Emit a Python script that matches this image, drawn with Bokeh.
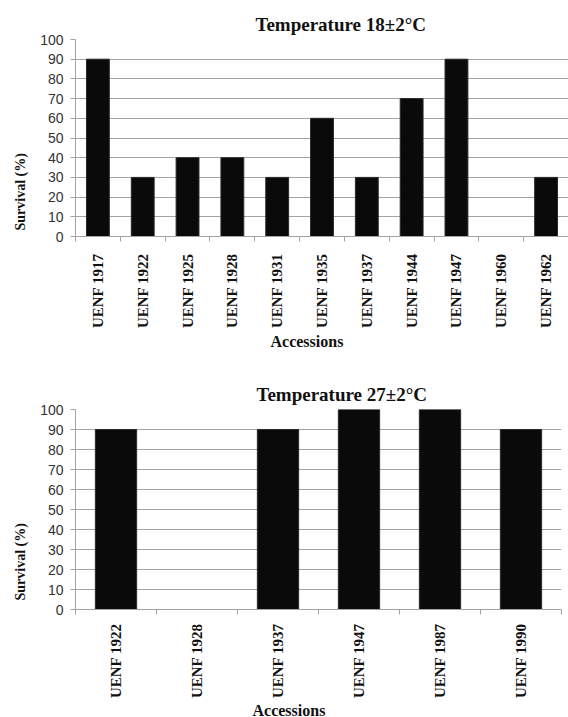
from math import pi

from bokeh.plotting import figure
from bokeh.models import (FactorRange, Range1d, LinearAxis, CategoricalAxis,
                          FixedTicker, Title, ColumnDataSource)
from bokeh.layouts import column
from bokeh.embed import file_html
from bokeh.resources import INLINE

# ---- data ----
acc_18 = ["UENF 1917", "UENF 1922", "UENF 1925", "UENF 1928", "UENF 1931", "UENF 1935",
          "UENF 1937", "UENF 1944", "UENF 1947", "UENF 1960", "UENF 1962"]
surv_18 = [90, 30, 40, 40, 30, 60, 30, 70, 90, 0, 30]

acc_27 = ["UENF 1922", "UENF 1928", "UENF 1937", "UENF 1947", "UENF 1987", "UENF 1990"]
surv_27 = [90, 0, 90, 100, 100, 90]

y_ticks = list(range(0, 101, 10))

title_18 = "Temperature 18±2°C"
title_27 = "Temperature 27±2°C"
y_label = "Survival (%)"
x_label = "Accessions"

GRID = "#a3a3a3"
BAR = "#0a0a0a"
SERIF = "Liberation Serif"
SANS = "Liberation Sans"
TXT = "#111111"


def make_chart(acc, surv, title, left, fw, right, top, fh, bottom,
               title_off, xlab_off, ylab_off, xlab_standoff, cat_standoff):
    p = figure(x_range=FactorRange(factors=acc), y_range=Range1d(0, 100),
               frame_width=fw, frame_height=fh,
               min_border_left=left, min_border_right=right,
               min_border_top=top, min_border_bottom=bottom,
               x_axis_location=None, toolbar_location=None,
               output_backend="svg", outline_line_color=None,
               background_fill_color="white", border_fill_color="white")
    p.xgrid.grid_line_color = None
    p.ygrid.grid_line_color = GRID
    p.ygrid.grid_line_width = 1
    p.ygrid.ticker = FixedTicker(ticks=y_ticks)

    ya = p.yaxis[0]
    ya.ticker = FixedTicker(ticks=y_ticks)
    ya.axis_line_color = GRID
    ya.major_tick_line_color = GRID
    ya.major_tick_out = 5
    ya.major_tick_in = 0
    ya.minor_tick_line_color = None
    ya.major_label_text_font = SANS
    ya.major_label_text_font_size = "14px"
    ya.major_label_text_color = "#333333"
    ya.major_label_standoff = 7

    # tick marks between categories (category edges in synthetic coordinates)
    edge_axis = LinearAxis(ticker=FixedTicker(ticks=list(range(len(acc) + 1))),
                           major_label_text_font_size="1px",
                           major_label_text_color=None,
                           major_label_standoff=0,
                           major_tick_out=5, major_tick_in=0,
                           axis_line_color=GRID, major_tick_line_color=GRID,
                           minor_tick_line_color=None)
    p.add_layout(edge_axis, "below")

    cat_axis = CategoricalAxis(major_label_orientation=pi / 2,
                               axis_line_color=None, major_tick_line_color=None,
                               major_label_text_font=SERIF,
                               major_label_text_font_style="bold",
                               major_label_text_font_size="15px",
                               major_label_text_color=TXT,
                               major_label_standoff=cat_standoff)
    p.add_layout(cat_axis, "below")

    src = ColumnDataSource(dict(acc=acc, surv=surv))
    p.vbar(x="acc", top="surv", width=0.51, source=src,
           fill_color=BAR, line_color="#2a2a2a", line_width=1)

    p.title.text = title
    p.title.align = "left"
    p.title.offset = title_off
    p.title.text_font = SERIF
    p.title.text_font_style = "bold"
    p.title.text_font_size = "19px"
    p.title.text_color = TXT
    p.title.standoff = 10

    p.add_layout(Title(text=y_label, align="left", offset=ylab_off,
                       text_font=SERIF, text_font_style="bold",
                       text_font_size="14px", text_color=TXT,
                       vertical_align="middle", standoff=18), "left")
    p.add_layout(Title(text=x_label, align="left", offset=xlab_off,
                       text_font=SERIF, text_font_style="bold",
                       text_font_size="16px", text_color=TXT,
                       vertical_align="top", standoff=xlab_standoff), "below")
    return p


p1 = make_chart(acc_18, surv_18, title_18,
                left=75, fw=493, right=0, top=39, fh=197, bottom=140,
                title_off=180, xlab_off=195, ylab_off=6, xlab_standoff=2,
                cat_standoff=6)
p2 = make_chart(acc_27, surv_27, title_27,
                left=69, fw=486, right=13, top=33, fh=200, bottom=107,
                title_off=181, xlab_off=177, ylab_off=9, xlab_standoff=0,
                cat_standoff=3)

layout = column(p1, p2, spacing=0)
open("out.html", "w").write(file_html(layout, INLINE))
